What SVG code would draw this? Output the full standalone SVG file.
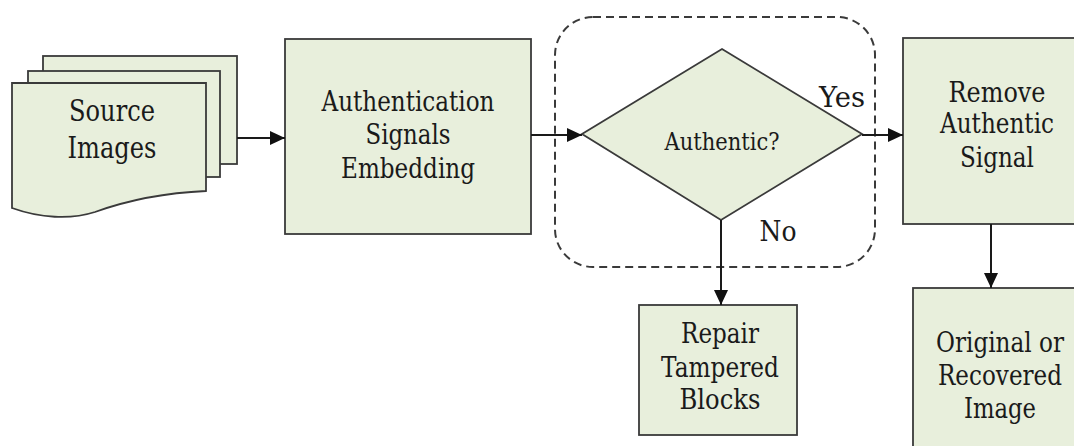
<svg xmlns="http://www.w3.org/2000/svg" width="1074" height="446" viewBox="0 0 1074 446">
<style>
.box{fill:#e8efdc;stroke:#3a3a3a;stroke-width:1.8}
.c{stroke:#1a1a1a;stroke-width:2;fill:none}
.t{fill:#1a1a1a;text-anchor:middle}
</style>
<defs>
<marker id="ah" markerWidth="16" markerHeight="14" refX="15" refY="7" orient="auto" markerUnits="userSpaceOnUse">
<path d="M0,0 L15,7 L0,14 Z" fill="#111"/>
</marker>
</defs>
<rect width="1074" height="446" fill="#ffffff"/>
<g id="group-authentic">
<rect x="555" y="17" width="320" height="250" rx="38" ry="38" fill="none" stroke="#3a3a3a" stroke-width="2" stroke-dasharray="8,5"/>
</g>
<g id="source-images">
<rect class="box" x="43" y="56" width="194" height="108"/>
<rect class="box" x="28" y="71" width="192" height="106"/>
<path class="box" d="M12,83 L206,83 L206,191 C160,193 120,203 95,212 C70,220 40,218 12,208 Z"/>
<text class="t" x="112" y="121" style="font-family:'DejaVu Serif',serif;font-size:29px" textLength="86" lengthAdjust="spacingAndGlyphs">Source</text>
<text class="t" x="112" y="158" style="font-family:'DejaVu Serif',serif;font-size:29px" textLength="89" lengthAdjust="spacingAndGlyphs">Images</text>
</g>
<g id="embedding">
<rect class="box" x="285" y="39" width="246" height="195"/>
<text class="t" x="408" y="111" style="font-family:'DejaVu Serif',serif;font-size:27px" textLength="173" lengthAdjust="spacingAndGlyphs">Authentication</text>
<text class="t" x="408" y="144" style="font-family:'DejaVu Serif',serif;font-size:27px" textLength="85" lengthAdjust="spacingAndGlyphs">Signals</text>
<text class="t" x="408" y="178" style="font-family:'DejaVu Serif',serif;font-size:27px" textLength="134" lengthAdjust="spacingAndGlyphs">Embedding</text>
</g>
<g id="decision">
<path class="box" d="M722,49 L862,134 L721,220 L582,134 Z"/>
<text class="t" x="722" y="150" style="font-family:'DejaVu Serif',serif;font-size:25px" textLength="115" lengthAdjust="spacingAndGlyphs">Authentic?</text>
</g>
<g id="remove">
<rect class="box" x="903" y="38" width="180" height="186"/>
<text class="t" x="997" y="102" style="font-family:'DejaVu Serif',serif;font-size:27px" textLength="97" lengthAdjust="spacingAndGlyphs">Remove</text>
<text class="t" x="997" y="133" style="font-family:'DejaVu Serif',serif;font-size:27px" textLength="114" lengthAdjust="spacingAndGlyphs">Authentic</text>
<text class="t" x="997" y="167" style="font-family:'DejaVu Serif',serif;font-size:27px" textLength="74" lengthAdjust="spacingAndGlyphs">Signal</text>
</g>
<g id="repair">
<rect class="box" x="639" y="305" width="158" height="130"/>
<text class="t" x="720" y="343" style="font-family:'DejaVu Serif',serif;font-size:27px" textLength="78" lengthAdjust="spacingAndGlyphs">Repair</text>
<text class="t" x="720" y="377" style="font-family:'DejaVu Serif',serif;font-size:27px" textLength="118" lengthAdjust="spacingAndGlyphs">Tampered</text>
<text class="t" x="720" y="409" style="font-family:'DejaVu Serif',serif;font-size:27px" textLength="81" lengthAdjust="spacingAndGlyphs">Blocks</text>
</g>
<g id="original">
<rect class="box" x="913" y="288" width="170" height="170"/>
<text class="t" x="1000" y="352" style="font-family:'DejaVu Serif',serif;font-size:27px" textLength="128" lengthAdjust="spacingAndGlyphs">Original or</text>
<text class="t" x="1000" y="385" style="font-family:'DejaVu Serif',serif;font-size:27px" textLength="124" lengthAdjust="spacingAndGlyphs">Recovered</text>
<text class="t" x="1000" y="418" style="font-family:'DejaVu Serif',serif;font-size:27px" textLength="72" lengthAdjust="spacingAndGlyphs">Image</text>
</g>
<g id="connectors">
<line class="c" x1="237" y1="138" x2="285" y2="138" marker-end="url(#ah)"/>
<line class="c" x1="531" y1="135" x2="582" y2="135" marker-end="url(#ah)"/>
<line class="c" x1="862" y1="135" x2="903" y2="135" marker-end="url(#ah)"/>
<line class="c" x1="721" y1="220" x2="721" y2="305" marker-end="url(#ah)"/>
<line class="c" x1="991" y1="224" x2="991" y2="288" marker-end="url(#ah)"/>
<text class="t" x="842" y="107" style="font-family:'DejaVu Serif',serif;font-size:27px" textLength="46" lengthAdjust="spacingAndGlyphs">Yes</text>
<text class="t" x="778" y="241" style="font-family:'DejaVu Serif',serif;font-size:27px" textLength="37" lengthAdjust="spacingAndGlyphs">No</text>
</g>
</svg>
